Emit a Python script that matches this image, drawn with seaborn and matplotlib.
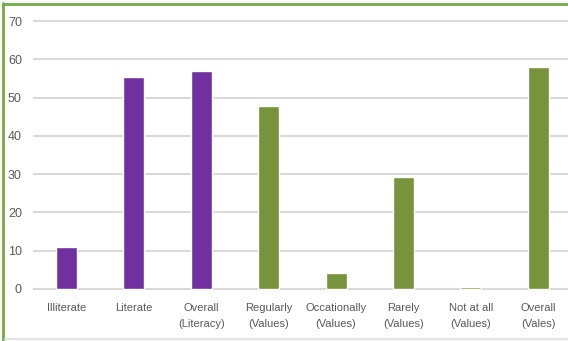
import matplotlib
matplotlib.use("Agg")
import matplotlib.pyplot as plt
import seaborn as sns
import pandas as pd
from matplotlib.lines import Line2D

categories = ["Illiterate", "Literate", "Overall\n(Literacy)", "Regularly\n(Values)",
              "Occationally\n(Values)", "Rarely\n(Values)", "Not at all\n(Values)", "Overall\n(Vales)"]
values = [11.0, 55.4, 57.0, 47.8, 4.3, 29.3, 0.6, 57.9]
groups = ["Literacy", "Literacy", "Literacy", "Values", "Values", "Values", "Values", "Values"]
colors = {"Literacy": "#7030A0", "Values": "#77933C"}
yticks = [0, 10, 20, 30, 40, 50, 60, 70]

sns.set_theme(style="white")
plt.rcParams['font.family'] = ['Liberation Sans Narrow', 'Liberation Sans', 'DejaVu Sans']

df = pd.DataFrame({"cat": categories, "val": values, "grp": groups})

W, H = 568, 341
fig = plt.figure(figsize=(W / 100, H / 100), dpi=100)
ax_left, ax_right = 33, 568
ax_bot, ax_top = 290.9, 19.1
ax = fig.add_axes([ax_left / W, 1 - ax_bot / H, (ax_right - ax_left) / W, (ax_bot - ax_top) / H])

sns.barplot(data=df, x="cat", y="val", hue="grp", palette=colors, dodge=False,
            width=0.31, legend=False, ax=ax, saturation=1)

ax.set_ylim(-0.5, 70.5)
ax.set_xlim(-0.497, 7.44)
ax.set_yticks(yticks)
for t in yticks:
    ax.axhline(t, color="#d9d9d9", lw=1.5, zorder=0)
for s in ax.spines.values():
    s.set_visible(False)
ax.set_xlabel("")
ax.set_ylabel("")
ax.tick_params(axis="both", length=0, colors="#595959")
ax.tick_params(axis="y", pad=8, labelsize=9)
ax.tick_params(axis="x", pad=9, labelsize=8)
for lab in ax.get_xticklabels():
    lab.set_linespacing(1.75)

# figure frame
fig.add_artist(Line2D([3.5 / W, 3.5 / W], [0, 1 - 3 / H], transform=fig.transFigure, color="#70AD47", lw=2))
fig.add_artist(Line2D([3 / W, 1], [1 - 3.5 / H, 1 - 3.5 / H], transform=fig.transFigure, color="#70AD47", lw=2))
fig.add_artist(Line2D([5 / W, 1], [1 - 338.5 / H, 1 - 338.5 / H], transform=fig.transFigure, color="#e3e3e3", lw=1.5))

fig.savefig("out.png", dpi=100)
